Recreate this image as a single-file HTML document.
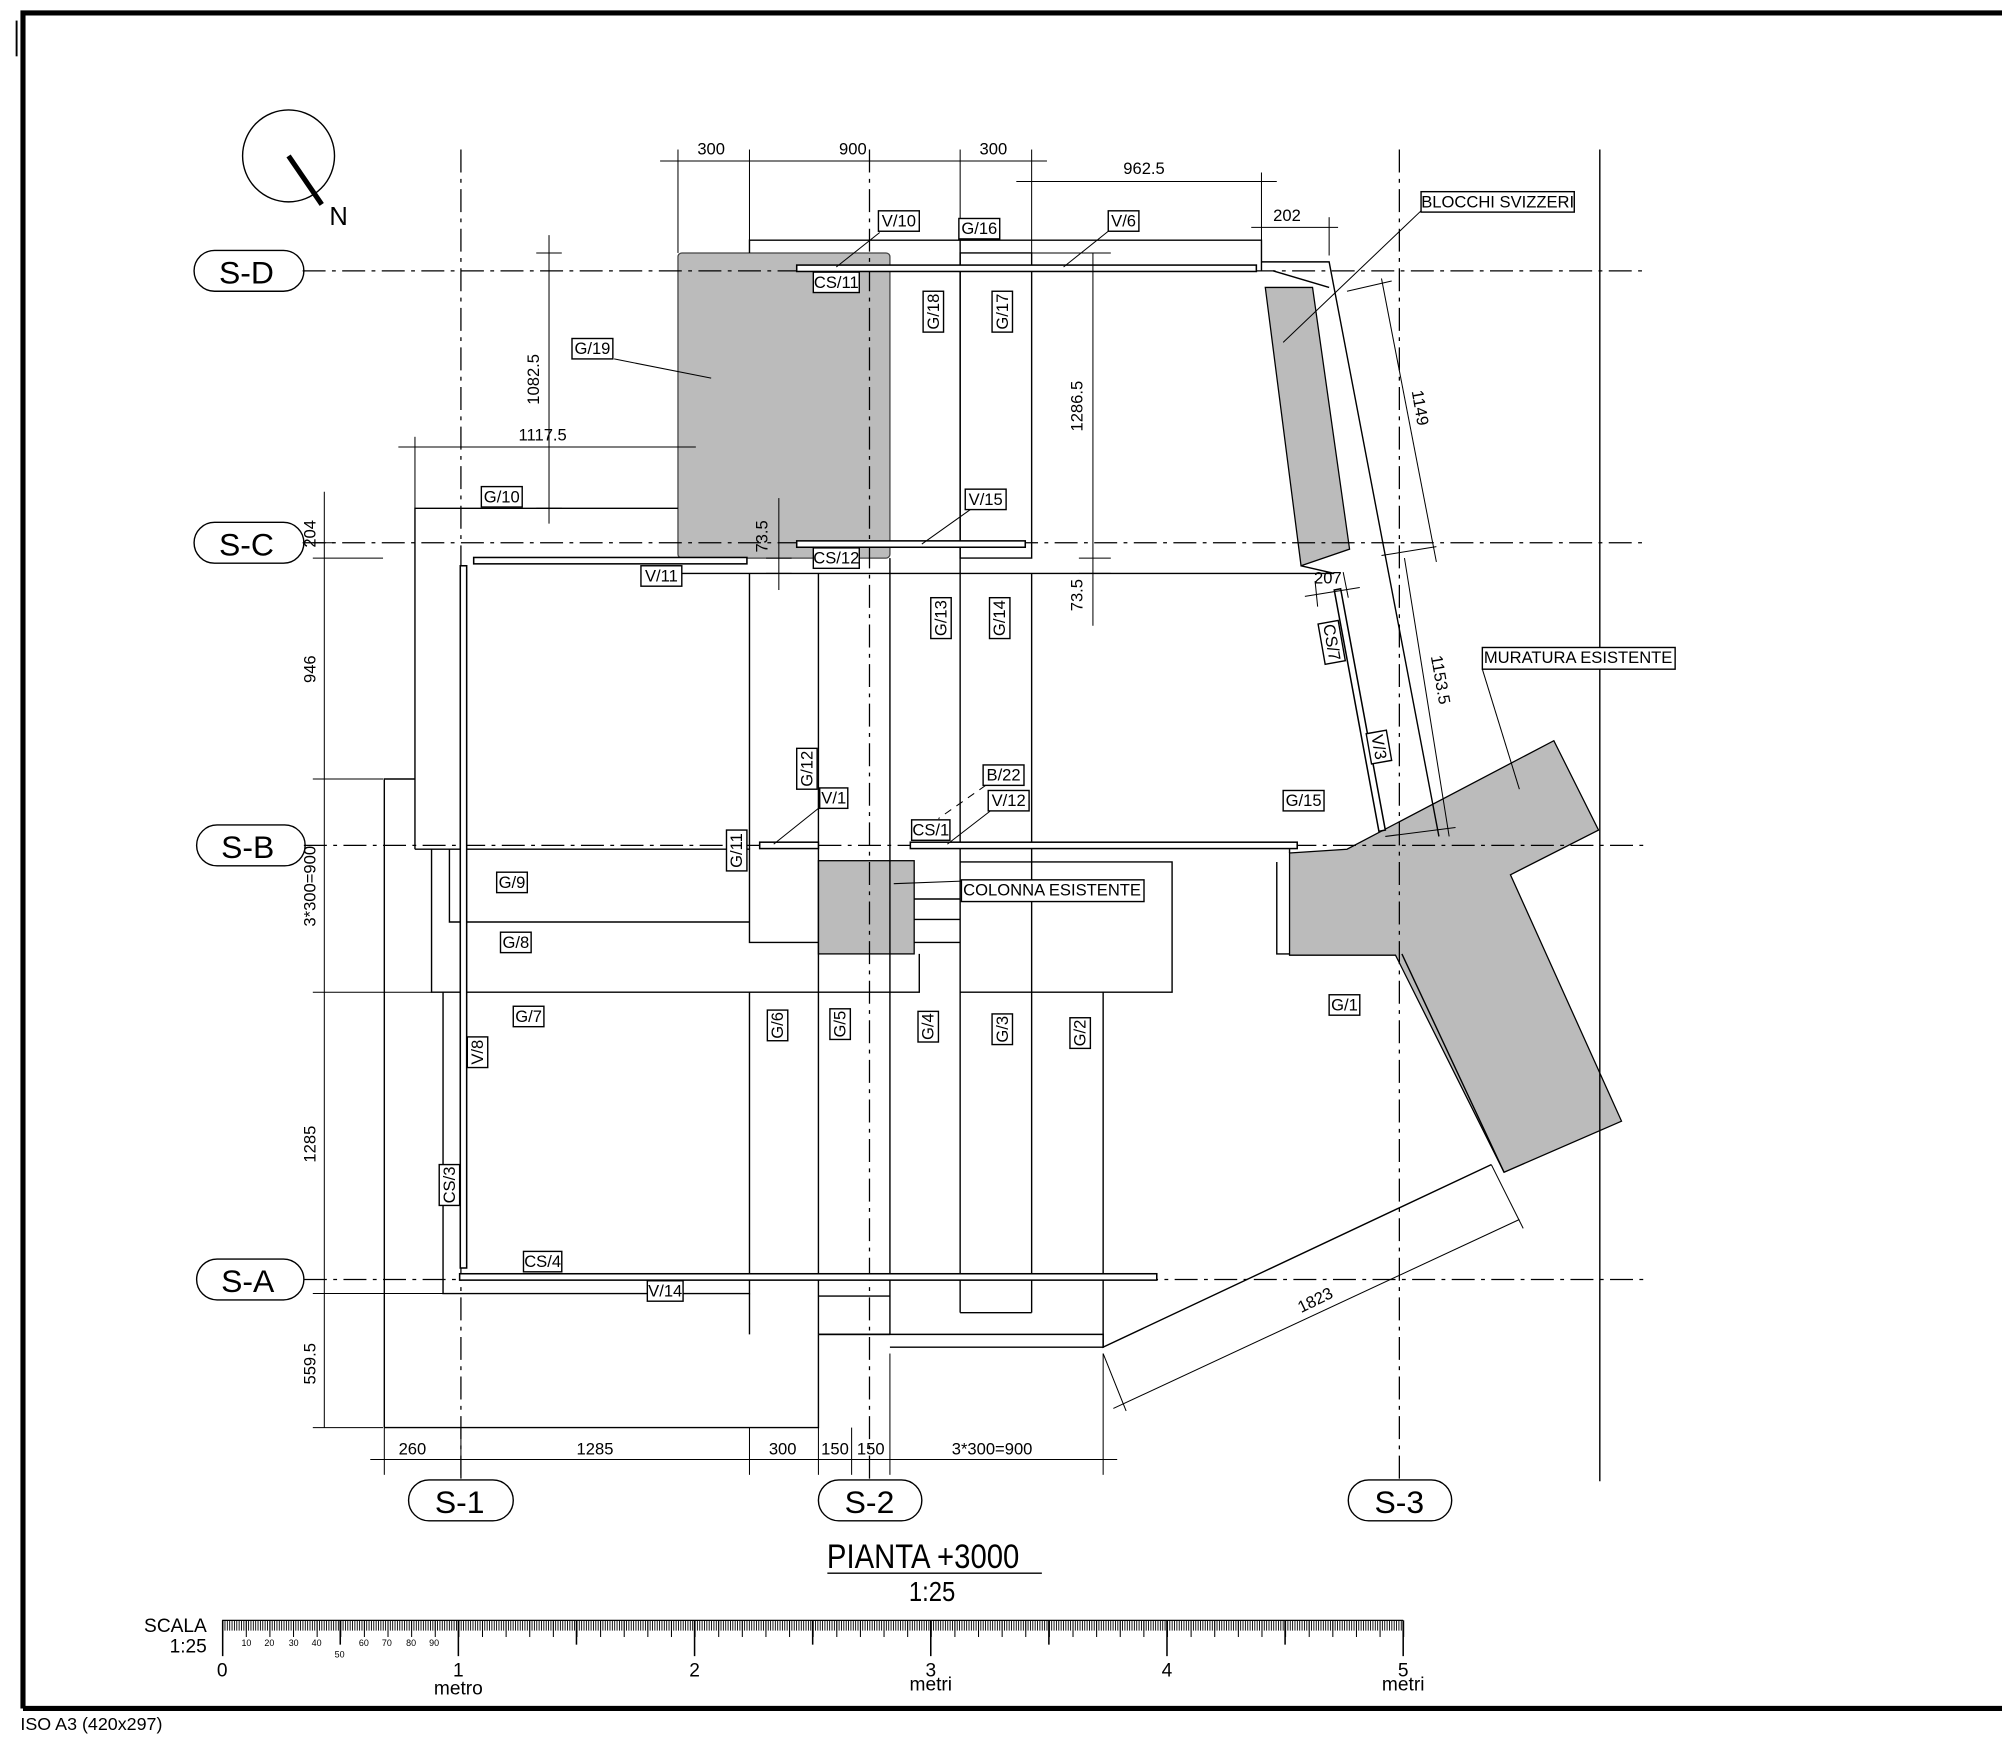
<!DOCTYPE html>
<html><head><meta charset="utf-8"><style>
html,body{margin:0;padding:0;background:#fff;}
svg{display:block;}
text{font-family:"Liberation Sans Narrow","Liberation Sans",sans-serif;fill:#000;}
.l{stroke:#000;stroke-width:1.1;fill:none;}
.t{stroke:#000;stroke-width:0.8;fill:none;}
.d{stroke:#000;stroke-width:1;fill:none;stroke-dasharray:18 5 3 5;}
.bar{stroke:#000;stroke-width:1.2;fill:#fff;}
.lb rect{fill:#fff;stroke:#000;stroke-width:1.1;}
.lb text{font-size:13px;text-anchor:middle;dominant-baseline:central;}
.dim{font-size:13px;text-anchor:middle;}
</style></head><body>
<svg width="2002" height="1738" viewBox="0 0 1568 1361" xmlns="http://www.w3.org/2000/svg">
<rect width="1568" height="1361" fill="#fff"/>
<!-- frame -->
<path d="M18 1338 V10 H1568" stroke="#000" stroke-width="4" fill="none"/>
<path d="M18 1338 H1568" stroke="#000" stroke-width="4"/>
<line x1="13" y1="16" x2="13" y2="44" stroke="#000" stroke-width="1.5"/>
<text x="16" y="1355" style="font-family:'Liberation Sans',sans-serif;font-size:14px">ISO A3 (420x297)</text>
<!-- north -->
<circle cx="226" cy="122" r="36" class="l"/>
<line x1="226" y1="122" x2="252" y2="160" stroke="#000" stroke-width="4"/>
<text x="258" y="176" style="font-size:20px;font-family:'Liberation Sans',sans-serif">N</text>

<!-- gray -->
<rect x="531" y="198" width="166" height="239" rx="3" fill="#bbb" stroke="#444" stroke-width="1"/>
<polygon points="991,225 1028,225 1057,430 1019,443" fill="#bbb" stroke="#000" stroke-width="1"/>
<rect x="641" y="674" width="75" height="73" fill="#bbb" stroke="#000" stroke-width="1"/>
<polygon points="1010,668 1055,665 1217,580 1252,650 1183,685 1270,878 1178,918 1093,748 1010,748" fill="#bbb" stroke="#000" stroke-width="1"/>

<!-- grid lines -->
<g class="d">
<line x1="237" y1="212" x2="1290" y2="212"/>
<line x1="237" y1="425" x2="1290" y2="425"/>
<line x1="238" y1="662" x2="1290" y2="662"/>
<line x1="238" y1="1002" x2="1290" y2="1002"/>
<line x1="361" y1="117" x2="361" y2="1160"/>
<line x1="681" y1="117" x2="681" y2="1160"/>
<line x1="1096" y1="117" x2="1096" y2="1160"/>
</g>
<line x1="1253" y1="117" x2="1253" y2="1160" class="l"/>

<!-- structure outlines -->
<g class="l">
<path d="M587 198 V188 H988 V212"/>
<path d="M752 198 H808 V437 H752 Z"/>
<path d="M988 205 H1041 L1127 655"/>
<path d="M997 212 L1041 225"/>
<path d="M531 449 H1045 L1019 443"/>
<path d="M752 188 V1028"/>
<path d="M697 437 V1045"/>
<path d="M641 449 V1045"/>
<path d="M587 449 V665"/>
<path d="M808 449 V1028"/>
<path d="M325 665 V398 H531"/>
<path d="M301 1118 V610 H325"/>
<path d="M301 1118 H641 V1045"/>
<path d="M325 665 H587 V738 H641"/>
<path d="M352 665 V722 H587"/>
<path d="M338 665 V777 H720 V747"/>
<path d="M716 704 H752 M716 720 H752 M716 738 H752"/>
<path d="M347 777 V1013 H587 V777"/>
<path d="M587 1013 V1045"/>
<path d="M752 675 H918 V777 H752"/>
<path d="M641 1015 H697 M697 1045 H641"/>
<path d="M752 1028 H808"/>
<path d="M641 1045 H864 V1055 H697"/>
<path d="M864 777 V1055 L1168 912"/>
<path d="M1000 675 V747 H1010"/>
<path d="M1016 662 H1010 V668"/>
<path d="M1098 747 L1178 918"/>
</g>

<!-- thick bars -->
<g class="bar">
<rect x="624" y="207.5" width="360" height="5"/>
<rect x="624" y="423.5" width="179" height="5"/>
<rect x="371" y="436.5" width="214" height="5"/>
<rect x="360.5" y="443" width="5" height="550"/>
<rect x="360" y="997.5" width="546" height="5"/>
<rect x="595" y="659.5" width="46" height="5"/>
<rect x="713" y="659.5" width="303" height="5"/>
<polygon points="1045,462 1050,461 1085,650 1080,651"/>
</g>

<!-- leaders -->
<g class="t">
<line x1="481" y1="281" x2="557" y2="296"/>
<line x1="689" y1="182" x2="655" y2="209"/>
<line x1="868" y1="181" x2="833" y2="209"/>
<line x1="760" y1="399" x2="722" y2="426"/>
<line x1="641" y1="633" x2="606" y2="661"/>
<line x1="777" y1="634" x2="742" y2="661"/>
<line x1="772" y1="615" x2="735" y2="641" style="stroke-dasharray:6 5"/>
<line x1="1113" y1="165" x2="1005" y2="268"/>
<line x1="1161" y1="524" x2="1190" y2="618"/>
<line x1="753" y1="690" x2="700" y2="692"/>
</g>

<!-- dimensions -->
<g class="t">
<line x1="517" y1="126" x2="820" y2="126"/>
<line x1="531" y1="117" x2="531" y2="198"/><line x1="587" y1="117" x2="587" y2="188"/>
<line x1="752" y1="117" x2="752" y2="188"/><line x1="808" y1="117" x2="808" y2="198"/>
<line x1="796" y1="142" x2="1000" y2="142"/><line x1="988" y1="135" x2="988" y2="188"/>
<line x1="980" y1="178" x2="1048" y2="178"/><line x1="1041" y1="170" x2="1041" y2="200"/>
<line x1="430" y1="184" x2="430" y2="410"/><line x1="420" y1="198" x2="440" y2="198"/><line x1="420" y1="398" x2="440" y2="398"/>
<line x1="312" y1="350" x2="545" y2="350"/><line x1="325" y1="342" x2="325" y2="398"/>
<line x1="856" y1="198" x2="856" y2="490"/><line x1="800" y1="198" x2="870" y2="198"/><line x1="845" y1="437" x2="870" y2="437"/><line x1="845" y1="449" x2="870" y2="449"/>
<line x1="610" y1="390" x2="610" y2="462"/><line x1="600" y1="437" x2="620" y2="437"/><line x1="600" y1="449" x2="620" y2="449"/>
<line x1="254" y1="385" x2="254" y2="1118"/>
<line x1="245" y1="437" x2="300" y2="437"/><line x1="245" y1="610" x2="300" y2="610"/>
<line x1="245" y1="777" x2="338" y2="777"/><line x1="245" y1="1013" x2="347" y2="1013"/><line x1="245" y1="1118" x2="300" y2="1118"/>
<line x1="245" y1="425" x2="262" y2="425"/>
<line x1="290" y1="1143" x2="875" y2="1143"/>
<line x1="301" y1="1118" x2="301" y2="1155"/><line x1="361" y1="1118" x2="361" y2="1155"/>
<line x1="587" y1="1118" x2="587" y2="1155"/><line x1="641" y1="1118" x2="641" y2="1155"/>
<line x1="667" y1="1118" x2="667" y2="1155"/><line x1="697" y1="1060" x2="697" y2="1155"/>
<line x1="864" y1="1060" x2="864" y2="1155"/>
<line x1="1082" y1="218" x2="1125" y2="440"/><line x1="1055" y1="228" x2="1090" y2="220"/>
<line x1="1082" y1="435" x2="1125" y2="428"/>
<line x1="1100" y1="437" x2="1135" y2="655"/><line x1="1085" y1="655" x2="1140" y2="648"/>
<line x1="1022" y1="467" x2="1065" y2="460"/><line x1="1030" y1="455" x2="1032" y2="475"/><line x1="1052" y1="448" x2="1056" y2="468"/>
<line x1="872" y1="1103" x2="1190" y2="955"/><line x1="864" y1="1060" x2="882" y2="1105"/><line x1="1168" y1="912" x2="1193" y2="962"/>
</g>
<g class="dim">
<text x="557" y="121">300</text><text x="668" y="121">900</text><text x="778" y="121">300</text>
<text x="896" y="136">962.5</text><text x="1008" y="173">202</text>
<text x="425" y="345">1117.5</text>
<text transform="translate(422,297) rotate(-90)">1082.5</text>
<text transform="translate(848,318) rotate(-90)">1286.5</text>
<text transform="translate(601,420) rotate(-90)">73.5</text>
<text transform="translate(848,466) rotate(-90)">73.5</text>
<text transform="translate(247,418) rotate(-90)">204</text>
<text transform="translate(247,524) rotate(-90)">946</text>
<text transform="translate(247,694) rotate(-90)">3*300=900</text>
<text transform="translate(247,896) rotate(-90)">1285</text>
<text transform="translate(247,1068) rotate(-90)">559.5</text>
<text x="323" y="1139">260</text><text x="466" y="1139">1285</text><text x="613" y="1139">300</text>
<text x="654" y="1139">150</text><text x="682" y="1139">150</text><text x="777" y="1139">3*300=900</text>
<text transform="translate(1108,320) rotate(80)">1149</text>
<text transform="translate(1124,533) rotate(80)">1153.5</text>
<text x="1040" y="457">207</text>
<text transform="translate(1032,1022) rotate(-26)">1823</text>
</g>

<!-- labels -->
<g class="lb">
<g transform="translate(704,173)"><rect x="-16" y="-8" width="32" height="16"/><text>V/10</text></g>
<g transform="translate(767,179)"><rect x="-16" y="-8" width="32" height="16"/><text>G/16</text></g>
<g transform="translate(880,173)"><rect x="-12" y="-8" width="24" height="16"/><text>V/6</text></g>
<g transform="translate(655,221)"><rect x="-18" y="-8" width="36" height="16"/><text>CS/11</text></g>
<g transform="translate(464,273)"><rect x="-16" y="-8" width="32" height="16"/><text>G/19</text></g>
<g transform="translate(393,389)"><rect x="-16" y="-8" width="32" height="16"/><text>G/10</text></g>
<g transform="translate(772,391)"><rect x="-16" y="-8" width="32" height="16"/><text>V/15</text></g>
<g transform="translate(655,437)"><rect x="-18" y="-8" width="36" height="16"/><text>CS/12</text></g>
<g transform="translate(518,451)"><rect x="-16" y="-8" width="32" height="16"/><text>V/11</text></g>
<g transform="translate(653,625)"><rect x="-11" y="-8" width="22" height="16"/><text>V/1</text></g>
<g transform="translate(786,607)"><rect x="-16" y="-8" width="32" height="16"/><text>B/22</text></g>
<g transform="translate(790,627)"><rect x="-16" y="-8" width="32" height="16"/><text>V/12</text></g>
<g transform="translate(729,650)"><rect x="-15" y="-8" width="30" height="16"/><text>CS/1</text></g>
<g transform="translate(1021,627)"><rect x="-16" y="-8" width="32" height="16"/><text>G/15</text></g>
<g transform="translate(401,691)"><rect x="-12" y="-8" width="24" height="16"/><text>G/9</text></g>
<g transform="translate(404,738)"><rect x="-12" y="-8" width="24" height="16"/><text>G/8</text></g>
<g transform="translate(414,796)"><rect x="-12" y="-8" width="24" height="16"/><text>G/7</text></g>
<g transform="translate(1053,787)"><rect x="-12" y="-8" width="24" height="16"/><text>G/1</text></g>
<g transform="translate(425,988)"><rect x="-15" y="-8" width="30" height="16"/><text>CS/4</text></g>
<g transform="translate(521,1011)"><rect x="-14" y="-8" width="28" height="16"/><text>V/14</text></g>
<g transform="translate(731,244) rotate(-90)"><rect x="-16" y="-8" width="32" height="16"/><text>G/18</text></g>
<g transform="translate(785,244) rotate(-90)"><rect x="-16" y="-8" width="32" height="16"/><text>G/17</text></g>
<g transform="translate(737,484) rotate(-90)"><rect x="-16" y="-8" width="32" height="16"/><text>G/13</text></g>
<g transform="translate(783,484) rotate(-90)"><rect x="-16" y="-8" width="32" height="16"/><text>G/14</text></g>
<g transform="translate(632,602) rotate(-90)"><rect x="-16" y="-8" width="32" height="16"/><text>G/12</text></g>
<g transform="translate(577,666) rotate(-90)"><rect x="-16" y="-8" width="32" height="16"/><text>G/11</text></g>
<g transform="translate(1043,503) rotate(80)"><rect x="-16" y="-8" width="32" height="16"/><text>CS/7</text></g>
<g transform="translate(1080,585) rotate(80)"><rect x="-12" y="-8" width="24" height="16"/><text>V/3</text></g>
<g transform="translate(609,803) rotate(-90)"><rect x="-12" y="-8" width="24" height="16"/><text>G/6</text></g>
<g transform="translate(658,802) rotate(-90)"><rect x="-12" y="-8" width="24" height="16"/><text>G/5</text></g>
<g transform="translate(727,804) rotate(-90)"><rect x="-12" y="-8" width="24" height="16"/><text>G/4</text></g>
<g transform="translate(785,806) rotate(-90)"><rect x="-12" y="-8" width="24" height="16"/><text>G/3</text></g>
<g transform="translate(846,809) rotate(-90)"><rect x="-12" y="-8" width="24" height="16"/><text>G/2</text></g>
<g transform="translate(374,824) rotate(-90)"><rect x="-12" y="-8" width="24" height="16"/><text>V/8</text></g>
<g transform="translate(352,928) rotate(-90)"><rect x="-16" y="-8" width="32" height="16"/><text>CS/3</text></g>
<g transform="translate(1173,158)"><rect x="-60" y="-8" width="120" height="16"/><text>BLOCCHI SVIZZERI</text></g>
<g transform="translate(1236,515)"><rect x="-75" y="-8" width="151" height="17"/><text>MURATURA ESISTENTE</text></g>
<g transform="translate(824,697)"><rect x="-71" y="-8" width="143" height="17"/><text>COLONNA ESISTENTE</text></g>
</g>

<!-- grid bubbles -->
<g style="font-size:25px" text-anchor="middle">
<rect x="152" y="196" width="86" height="32" rx="16" class="l"/><text x="193" y="222">S-D</text>
<rect x="152" y="409" width="86" height="32" rx="16" class="l"/><text x="193" y="435">S-C</text>
<rect x="154" y="646" width="85" height="32" rx="16" class="l"/><text x="194" y="672">S-B</text>
<rect x="154" y="986" width="84" height="32" rx="16" class="l"/><text x="194" y="1012">S-A</text>
<rect x="320" y="1159" width="82" height="32" rx="16" class="l"/><text x="360" y="1185">S-1</text>
<rect x="641" y="1159" width="81" height="32" rx="16" class="l"/><text x="681" y="1185">S-2</text>
<rect x="1056" y="1159" width="81" height="32" rx="16" class="l"/><text x="1096" y="1185">S-3</text>
</g>

<!-- title -->
<text transform="translate(723,1228) scale(0.85,1)" text-anchor="middle" style="font-size:27px">PIANTA +3000</text>
<line x1="648" y1="1232" x2="816" y2="1232" class="l"/>
<text transform="translate(730,1254) scale(0.85,1)" text-anchor="middle" style="font-size:22px">1:25</text>

<!-- scale bar -->
<line x1="174" y1="1269" x2="1099" y2="1269" stroke="#000" stroke-width="1"/>
<line x1="174" y1="1273" x2="1099" y2="1273" stroke="#000" stroke-width="8" style="stroke-dasharray:0.7 1.15"/>
<line x1="174" y1="1275.5" x2="1100" y2="1275.5" stroke="#000" stroke-width="13" style="stroke-dasharray:0.8 17.7" transform="translate(0,0)"/>
<g stroke="#000" stroke-width="1.2">
<line x1="174.4" y1="1269" x2="174.4" y2="1297"/><line x1="359" y1="1269" x2="359" y2="1297"/>
<line x1="544" y1="1269" x2="544" y2="1297"/><line x1="729" y1="1269" x2="729" y2="1297"/>
<line x1="914" y1="1269" x2="914" y2="1297"/><line x1="1099" y1="1269" x2="1099" y2="1297"/>
<line x1="266.5" y1="1269" x2="266.5" y2="1288"/><line x1="451.5" y1="1269" x2="451.5" y2="1288"/>
<line x1="636.5" y1="1269" x2="636.5" y2="1288"/><line x1="821.5" y1="1269" x2="821.5" y2="1288"/>
<line x1="1006.5" y1="1269" x2="1006.5" y2="1288"/>
</g>
<g style="font-family:'Liberation Sans',sans-serif;font-size:7px" text-anchor="middle">
<text x="193" y="1289">10</text><text x="211" y="1289">20</text><text x="230" y="1289">30</text><text x="248" y="1289">40</text>
<text x="266" y="1298">50</text><text x="285" y="1289">60</text><text x="303" y="1289">70</text><text x="322" y="1289">80</text><text x="340" y="1289">90</text>
</g>
<g style="font-family:'Liberation Sans',sans-serif;font-size:15px" text-anchor="middle">
<text x="174" y="1313">0</text><text x="359" y="1313">1</text><text x="544" y="1313">2</text><text x="729" y="1313">3</text><text x="914" y="1313">4</text><text x="1099" y="1313">5</text>
<text x="359" y="1327">metro</text><text x="729" y="1324">metri</text><text x="1099" y="1324">metri</text>
<text x="162" y="1278" text-anchor="end">SCALA</text><text x="162" y="1294" text-anchor="end">1:25</text>
</g>
</svg>
</body></html>
